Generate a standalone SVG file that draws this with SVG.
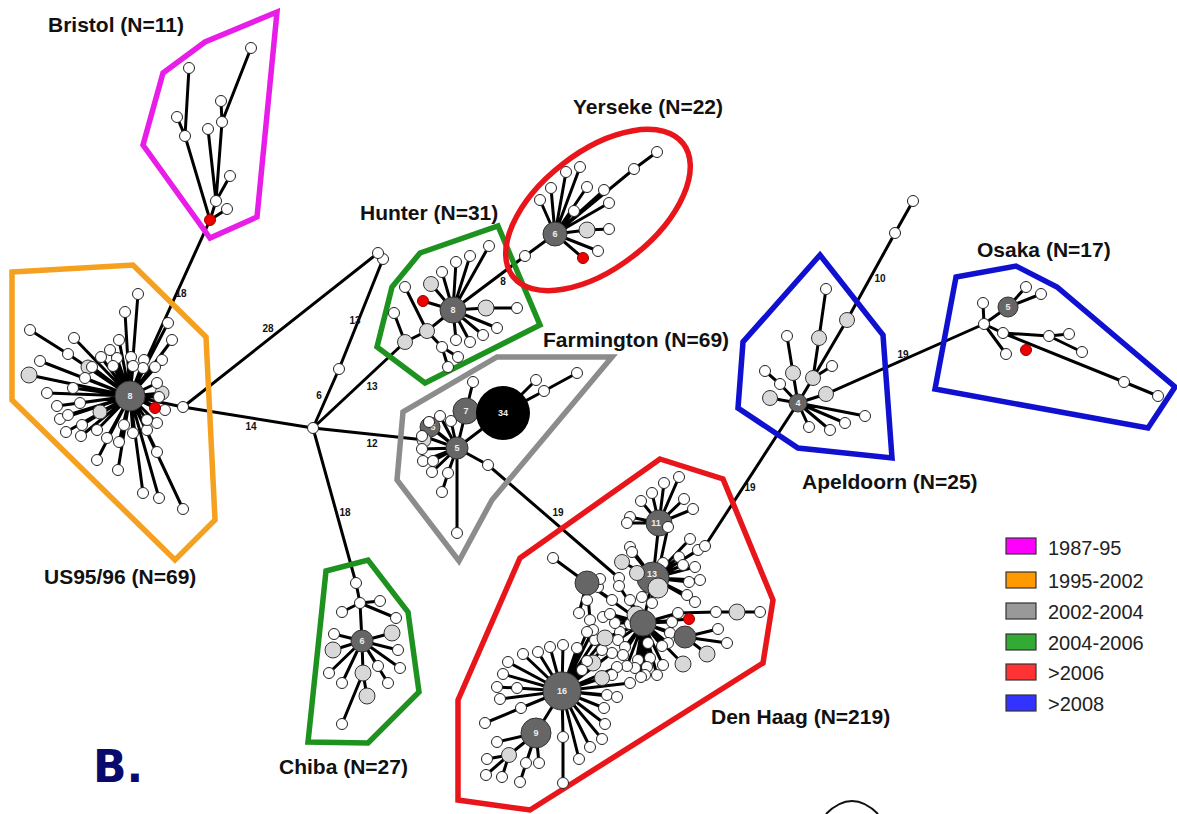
<svg xmlns="http://www.w3.org/2000/svg" width="1177" height="814" viewBox="0 0 1177 814">
<defs>
<style>
.e{fill:none;stroke:#000;stroke-width:3;stroke-linecap:round}
.h{fill:none;stroke-width:5.5;stroke-linejoin:miter}
.w{fill:#fff;stroke:#222;stroke-width:1}
.l{fill:#d8d8d8;stroke:#333;stroke-width:1}
.d{fill:#666;stroke:#333;stroke-width:1}
.r{fill:#e00;stroke:#900;stroke-width:1}
.k{fill:#000}
.nt{font-family:"Liberation Sans",Arial,sans-serif;font-weight:bold;font-size:9px;fill:#eee;text-anchor:middle}
.el{font-family:"Liberation Sans",Arial,sans-serif;font-weight:bold;font-size:10px;fill:#111;text-anchor:middle}
.gl{font-family:"Liberation Sans",Arial,sans-serif;font-weight:bold;font-size:21px;fill:#111}
.lg{font-family:"Liberation Sans",Arial,sans-serif;font-size:20px;fill:#222}
.sw{stroke:#333;stroke-width:1.2}
</style>
</defs>
<rect width="1177" height="814" fill="#fff"/>
<g id="connectors">
<path class="e" d="M210,220L130,396 M130,396L183,407L313,428 M183,407L378,253 M313,428L339,369L383,259 M313,428L405,342 M313,428L425,440 M313,428L356,583
M130,396L138,294M130,396L125,312M130,396L68,354L30,330M130,396L74,338M130,396L119,340M130,396L168,323M130,396L172,340M130,396L162,360M130,396L40,361M130,396L88,367M130,396L29,375M130,396L47,393M130,396L73,388M130,396L57,406M130,396L80,403M130,396L60,419M130,396L68,415M130,396L66,432M130,396L82,425M130,396L81,436M130,396L100,412M130,396L97,430M130,396L107,438M130,396L97,460M130,396L118,470M130,396L119,442M130,396L124,425M130,396L133,433M130,396L147,430M130,396L157,423M130,396L147,420M130,396L165,410M130,396L155,408M130,396L157,452M130,396L143,493M130,396L159,498M130,396L183,509M130,396L162,393M130,396L159,397M130,396L157,383M130,396L155,367M130,396L144,360M130,396L143,368M130,396L131,357M130,396L133,366M130,396L117,358M130,396L113,366M130,396L110,350M130,396L101,357M130,396L92,367M130,396L85,378
M210,220L216,201L230,176M210,220L227,209M216,201L222,122L221,101M222,122L251,48M216,201L208,129M210,220L185,136L177,117M185,136L189,68
M405,342L427,331L453,310M405,342L394,313M427,331L405,287M427,331L442,347L458,357M442,347L448,367
M453,310L525,256L555,234M453,310L489,246M453,310L470,256M453,310L456,262M453,310L442,272M453,310L431,284M453,310L423,301M453,310L486,308L517,308M453,310L497,328M453,310L483,335M453,310L470,342M453,310L456,340
M555,234L634,169L657,152M555,234L604,190M555,234L587,187M555,234L580,167M555,234L566,172M555,234L551,188M555,234L540,200M555,234L609,203M555,234L574,211M555,234L587,230L609,229M555,234L598,251M555,234L583,258
M457,448L466,411L473,382M457,448L503,413M503,413L536,380M503,413L544,391L577,373M457,448L430,427M457,448L440,416M457,448L451,421M457,448L429,425M457,448L423,436M457,448L422,449M457,448L423,461M457,448L433,461M457,448L432,472M457,448L448,473L442,492M457,448L457,533M457,448L488,465L619,578
M362,641L360,603L356,583M360,603L342,612M360,603L380,601M360,603L396,618M362,641L334,634M362,641L333,650M362,641L392,633M362,641L398,650M362,641L378,666M362,641L400,668M362,641L388,683M362,641L329,673M362,641L342,683M362,641L363,673L367,696M363,673L342,724
M798,403L813,378L847,320L895,233L913,201M813,378L819,338L826,289M813,378L832,366M798,403L793,373L787,336M798,403L780,384L765,371M798,403L770,398M798,403L826,394L984,324M798,403L865,416M798,403L845,423M798,403L830,430M798,403L809,427M798,403L705,546
M984,324L1008,307L1026,287M1008,307L1041,294M984,324L983,303M984,324L1003,333L1049,336L1069,334M1049,336L1082,352M1003,333L1124,382L1158,396M984,324L1006,354
M659,523L664,483M659,523L679,477M659,523L684,499M659,523L693,509M659,523L652,493M659,523L641,501M659,523L630,517M659,523L627,523M659,523L653,578M668,527L657,578
M653,578L630,547M653,578L632,552M653,578L622,562M653,578L637,573M653,578L663,563M653,578L679,557M653,578L690,539M653,578L698,550M653,578L705,546M653,578L683,565M653,578L695,567M653,578L700,580M653,578L689,582M653,578L687,595M653,578L695,602M653,578L652,603M653,578L642,597M653,578L643,623
M643,623L672,622M643,623L670,633M643,623L668,643M643,623L662,646M643,623L648,643M643,623L650,658M643,623L638,660M643,623L663,665M643,623L657,675M643,623L647,667M643,623L645,675M643,623L635,668M643,623L641,677M643,623L627,666M643,623L630,624M643,623L620,632M643,623L618,640M643,623L615,623M643,623L603,617M643,623L610,614M643,623L625,647M643,623L623,655M643,623L630,600M643,623L619,586M643,623L689,619M643,623L685,637M643,623L683,664M643,623L605,638M643,623L678,613L716,612L737,612L760,612M685,637L718,629M685,637L727,643M685,637L707,654
M587,583L553,558M587,583L598,587M587,583L600,579M587,583L587,600M587,583L579,613M587,583L590,620M587,583L612,600M587,583L643,623
M562,691L605,638M562,691L612,653M562,691L602,650M562,691L595,640M562,691L593,630M562,691L587,632M562,691L617,667M562,691L612,675M562,691L630,683M562,691L593,663M562,691L602,678M562,691L508,662M562,691L523,654M562,691L538,652M562,691L550,647M562,691L563,645M562,691L577,648M562,691L503,674M562,691L517,688L497,687M562,691L500,699M562,691L521,708L485,723M562,691L587,661M562,691L607,695M562,691L617,697M562,691L604,708M562,691L605,724M562,691L602,739M562,691L590,747M562,691L579,759M562,691L563,737L563,783M562,691L582,670M562,691L536,733
M536,733L497,742M536,733L509,755M536,733L520,782M536,733L526,763M536,733L539,763M509,755L487,759M509,755L486,775M509,755L502,777"/>
<text class="el" x="181" y="297">18</text>
<text class="el" x="268" y="332">28</text>
<text class="el" x="355" y="324">13</text>
<text class="el" x="319" y="399">6</text>
<text class="el" x="372" y="390">13</text>
<text class="el" x="251" y="430">14</text>
<text class="el" x="372" y="447">12</text>
<text class="el" x="345" y="516">18</text>
<text class="el" x="503" y="285">8</text>
<text class="el" x="558" y="516">19</text>
<text class="el" x="750" y="491">19</text>
<text class="el" x="880" y="282">10</text>
<text class="el" x="903" y="358">19</text>
</g>
<g id="hulls">
<polygon class="h" stroke="#e81ee8" points="277,12 205,42 163,73 143,145 210,238 257,217"/>
<polygon class="h" stroke="#f5a01e" points="12,272 133,265 206,337 215,520 175,560 12,400"/>
<polygon class="h" stroke="#1e921e" points="498,226 540,325 425,383 377,347 392,287 420,253"/>
<ellipse class="h" stroke="#e8151a" cx="598" cy="210" rx="108" ry="58" transform="rotate(-38 598 210)"/>
<polygon class="h" stroke="#8c8c8c" points="612,357 497,357 403,412 397,480 459,561 492,500"/>
<polygon class="h" stroke="#1e921e" points="326,571 368,560 408,612 419,692 368,743 308,742"/>
<polygon class="h" stroke="#1010d0" points="820,255 883,335 892,458 798,448 738,408 743,342"/>
<polygon class="h" stroke="#1010d0" points="956,277 1016,266 1057,287 1175,387 1148,428 935,389"/>
<polygon class="h" stroke="#e8151a" points="660,459 723,479 773,600 763,663 530,810 458,800 458,700 520,558"/>
</g>
<g id="node-bristol">
<circle class="w" cx="216" cy="201" r="5.5"/><circle class="w" cx="227" cy="209" r="5.5"/><circle class="w" cx="230" cy="176" r="5.5"/><circle class="w" cx="222" cy="122" r="5.5"/><circle class="w" cx="221" cy="101" r="5.5"/><circle class="w" cx="251" cy="48" r="5.5"/><circle class="w" cx="208" cy="129" r="5.5"/><circle class="w" cx="185" cy="136" r="5.5"/><circle class="w" cx="177" cy="117" r="5.5"/><circle class="w" cx="189" cy="68" r="5.5"/>
<circle class="r" cx="210" cy="220" r="5.5"/>
<text class="gl" x="48" y="32">Bristol (N=11)</text>
</g>
<g id="node-us">
<circle class="w" cx="183" cy="407" r="5.5"/>
<circle class="w" cx="138" cy="294" r="5.5"/><circle class="w" cx="125" cy="312" r="5.5"/><circle class="w" cx="30" cy="330" r="5.5"/><circle class="w" cx="68" cy="354" r="5.5"/><circle class="w" cx="74" cy="338" r="5.5"/><circle class="w" cx="119" cy="340" r="5.5"/><circle class="w" cx="168" cy="323" r="5.5"/><circle class="w" cx="172" cy="340" r="5.5"/><circle class="w" cx="162" cy="360" r="5.5"/><circle class="w" cx="40" cy="361" r="5.5"/><circle class="l" cx="88" cy="367" r="7"/><circle class="l" cx="29" cy="375" r="8"/><circle class="w" cx="47" cy="393" r="5.5"/><circle class="w" cx="73" cy="388" r="5.5"/><circle class="w" cx="57" cy="406" r="5.5"/><circle class="w" cx="80" cy="403" r="5.5"/><circle class="w" cx="60" cy="419" r="5.5"/><circle class="w" cx="68" cy="415" r="5.5"/><circle class="w" cx="66" cy="432" r="5.5"/><circle class="w" cx="82" cy="425" r="5.5"/><circle class="w" cx="81" cy="436" r="5.5"/><circle class="l" cx="100" cy="412" r="7"/><circle class="w" cx="97" cy="430" r="5.5"/><circle class="w" cx="107" cy="438" r="5.5"/><circle class="w" cx="97" cy="460" r="5.5"/><circle class="w" cx="118" cy="470" r="5.5"/><circle class="w" cx="119" cy="442" r="5.5"/><circle class="w" cx="124" cy="425" r="5.5"/><circle class="w" cx="133" cy="433" r="5.5"/><circle class="w" cx="147" cy="430" r="5.5"/><circle class="w" cx="157" cy="423" r="5.5"/><circle class="w" cx="147" cy="420" r="5.5"/><circle class="w" cx="165" cy="410" r="5.5"/><circle class="w" cx="157" cy="452" r="5.5"/><circle class="w" cx="143" cy="493" r="5.5"/><circle class="w" cx="159" cy="498" r="5.5"/><circle class="w" cx="183" cy="509" r="5.5"/><circle class="l" cx="162" cy="393" r="7"/><circle class="w" cx="159" cy="397" r="5.5"/><circle class="w" cx="157" cy="383" r="5.5"/><circle class="w" cx="155" cy="367" r="5.5"/><circle class="w" cx="144" cy="360" r="5.5"/><circle class="w" cx="143" cy="368" r="5.5"/><circle class="w" cx="131" cy="357" r="5.5"/><circle class="w" cx="133" cy="366" r="5.5"/><circle class="w" cx="117" cy="358" r="5.5"/><circle class="w" cx="113" cy="366" r="5.5"/><circle class="w" cx="110" cy="350" r="5.5"/><circle class="w" cx="101" cy="357" r="5.5"/><circle class="w" cx="92" cy="367" r="5.5"/><circle class="w" cx="85" cy="378" r="5.5"/>
<circle class="r" cx="155" cy="408" r="5.5"/>
<circle class="d" cx="130" cy="396" r="15"/><text class="nt" x="130" y="399">8</text>
<text class="gl" x="44" y="584">US95/96 (N=69)</text>
</g>
<g id="node-center">
<circle class="w" cx="313" cy="428" r="5.5"/><circle class="w" cx="339" cy="369" r="5.5"/><circle class="w" cx="383" cy="259" r="5.5"/><circle class="w" cx="378" cy="253" r="5.5"/>
</g>
<g id="node-hunter">
<circle class="l" cx="405" cy="342" r="7.5"/><circle class="l" cx="427" cy="331" r="7.5"/><circle class="w" cx="394" cy="313" r="5.5"/><circle class="w" cx="405" cy="287" r="5.5"/><circle class="w" cx="442" cy="347" r="5.5"/><circle class="w" cx="458" cy="357" r="5.5"/><circle class="w" cx="448" cy="367" r="5.5"/>
<circle class="w" cx="525" cy="256" r="5.5"/><circle class="w" cx="489" cy="246" r="5.5"/><circle class="w" cx="470" cy="256" r="5.5"/><circle class="w" cx="456" cy="262" r="5.5"/><circle class="w" cx="442" cy="272" r="5.5"/><circle class="l" cx="431" cy="284" r="7.5"/><circle class="r" cx="423" cy="301" r="5.5"/><circle class="l" cx="486" cy="308" r="8"/><circle class="w" cx="517" cy="308" r="5.5"/><circle class="w" cx="497" cy="328" r="5.5"/><circle class="w" cx="483" cy="335" r="5.5"/><circle class="w" cx="470" cy="342" r="5.5"/><circle class="w" cx="456" cy="340" r="5.5"/>
<circle class="d" cx="453" cy="310" r="13"/><text class="nt" x="453" y="313">8</text>
<text class="gl" x="360" y="220">Hunter (N=31)</text>
</g>
<g id="node-yerseke">
<circle class="w" cx="634" cy="169" r="5.5"/><circle class="w" cx="657" cy="152" r="5.5"/><circle class="w" cx="604" cy="190" r="5.5"/><circle class="w" cx="587" cy="187" r="5.5"/><circle class="w" cx="580" cy="167" r="5.5"/><circle class="w" cx="566" cy="172" r="5.5"/><circle class="w" cx="551" cy="188" r="5.5"/><circle class="w" cx="540" cy="200" r="5.5"/><circle class="w" cx="609" cy="203" r="5.5"/><circle class="w" cx="574" cy="211" r="5.5"/><circle class="l" cx="587" cy="230" r="8"/><circle class="w" cx="609" cy="229" r="5.5"/><circle class="w" cx="598" cy="251" r="5.5"/><circle class="r" cx="583" cy="258" r="5.5"/>
<circle class="d" cx="555" cy="234" r="12"/><text class="nt" x="555" y="237">6</text>
<text class="gl" x="573" y="114">Yerseke (N=22)</text>
</g>
<g id="node-farmington">
<circle class="w" cx="473" cy="382" r="5.5"/><circle class="w" cx="536" cy="380" r="5.5"/><circle class="w" cx="544" cy="391" r="5.5"/><circle class="w" cx="577" cy="373" r="5.5"/>
<circle class="d" cx="430" cy="427" r="10"/><circle class="l" cx="424" cy="440" r="7"/><text class="nt" x="433" y="430">5</text>
<circle class="w" cx="440" cy="416" r="5.5"/><circle class="w" cx="451" cy="421" r="5.5"/><circle class="w" cx="429" cy="422" r="5.5"/><circle class="w" cx="422" cy="436" r="5.5"/><circle class="w" cx="422" cy="449" r="5.5"/><circle class="w" cx="423" cy="461" r="5.5"/><circle class="w" cx="433" cy="461" r="5.5"/><circle class="w" cx="432" cy="472" r="5.5"/><circle class="w" cx="448" cy="473" r="5.5"/><circle class="w" cx="442" cy="492" r="5.5"/><circle class="w" cx="457" cy="533" r="5.5"/><circle class="w" cx="488" cy="465" r="5.5"/>
<circle class="d" cx="466" cy="411" r="13"/><text class="nt" x="466" y="414">7</text>
<circle class="k" cx="503" cy="413" r="27"/><text class="nt" x="503" y="416">34</text>
<circle class="d" cx="457" cy="448" r="11"/><text class="nt" x="457" y="451">5</text>
<text class="gl" x="543" y="347">Farmington (N=69)</text>
</g>
<g id="node-chiba">
<circle class="w" cx="356" cy="583" r="5.5"/><circle class="w" cx="360" cy="603" r="5.5"/><circle class="w" cx="342" cy="612" r="5.5"/><circle class="w" cx="380" cy="601" r="5.5"/><circle class="w" cx="396" cy="618" r="5.5"/><circle class="w" cx="334" cy="634" r="5.5"/><circle class="l" cx="333" cy="650" r="8"/><circle class="l" cx="392" cy="633" r="8"/><circle class="w" cx="398" cy="650" r="5.5"/><circle class="w" cx="378" cy="666" r="5.5"/><circle class="w" cx="400" cy="668" r="5.5"/><circle class="w" cx="388" cy="683" r="5.5"/><circle class="w" cx="329" cy="673" r="5.5"/><circle class="w" cx="342" cy="683" r="5.5"/><circle class="l" cx="363" cy="673" r="8"/><circle class="l" cx="367" cy="696" r="8"/><circle class="w" cx="342" cy="724" r="5.5"/>
<circle class="d" cx="362" cy="641" r="11"/><text class="nt" x="362" y="644">6</text>
<text class="gl" x="279" y="774">Chiba (N=27)</text>
</g>
<g id="node-apeldoorn">
<circle class="w" cx="913" cy="201" r="5.5"/><circle class="w" cx="895" cy="233" r="5.5"/><circle class="l" cx="847" cy="320" r="7.5"/><circle class="l" cx="819" cy="338" r="7.5"/><circle class="l" cx="813" cy="378" r="7.5"/><circle class="w" cx="826" cy="289" r="5.5"/><circle class="l" cx="793" cy="373" r="7.5"/><circle class="w" cx="787" cy="336" r="5.5"/><circle class="w" cx="765" cy="371" r="5.5"/><circle class="w" cx="780" cy="384" r="5.5"/><circle class="l" cx="770" cy="398" r="7.5"/><circle class="w" cx="832" cy="366" r="5.5"/><circle class="l" cx="826" cy="394" r="7.5"/><circle class="w" cx="865" cy="416" r="5.5"/><circle class="w" cx="845" cy="423" r="5.5"/><circle class="w" cx="830" cy="430" r="5.5"/><circle class="w" cx="809" cy="427" r="5.5"/>
<circle class="d" cx="798" cy="403" r="9"/><text class="nt" x="798" y="406">4</text>
<text class="gl" x="802" y="489">Apeldoorn (N=25)</text>
</g>
<g id="node-osaka">
<circle class="w" cx="984" cy="324" r="5.5"/><circle class="w" cx="983" cy="303" r="5.5"/><circle class="w" cx="1026" cy="287" r="5.5"/><circle class="w" cx="1041" cy="294" r="5.5"/><circle class="w" cx="1003" cy="333" r="5.5"/><circle class="w" cx="1006" cy="354" r="5.5"/><circle class="w" cx="1049" cy="336" r="5.5"/><circle class="w" cx="1069" cy="334" r="5.5"/><circle class="w" cx="1082" cy="352" r="5.5"/><circle class="w" cx="1124" cy="382" r="5.5"/><circle class="w" cx="1158" cy="396" r="5.5"/><circle class="r" cx="1026" cy="350" r="5.5"/>
<circle class="d" cx="1008" cy="307" r="10"/><text class="nt" x="1008" y="310">5</text>
<text class="gl" x="977" y="257">Osaka (N=17)</text>
</g>
<g id="node-denhaag">
<circle class="w" cx="664" cy="483" r="5.5"/><circle class="w" cx="679" cy="477" r="5.5"/><circle class="w" cx="684" cy="499" r="5.5"/><circle class="w" cx="693" cy="509" r="5.5"/><circle class="w" cx="652" cy="493" r="5.5"/><circle class="w" cx="641" cy="501" r="5.5"/><circle class="w" cx="630" cy="517" r="5.5"/><circle class="w" cx="627" cy="523" r="5.5"/>
<circle class="d" cx="659" cy="523" r="13"/><text class="nt" x="656" y="526">11</text><circle class="w" cx="668" cy="527" r="5.5"/>
<circle class="w" cx="630" cy="547" r="5.5"/><circle class="w" cx="632" cy="552" r="5.5"/><circle class="l" cx="622" cy="562" r="7.5"/><circle class="w" cx="663" cy="563" r="5.5"/><circle class="w" cx="679" cy="557" r="5.5"/><circle class="w" cx="690" cy="539" r="5.5"/><circle class="w" cx="698" cy="550" r="5.5"/><circle class="w" cx="705" cy="546" r="5.5"/><circle class="w" cx="683" cy="565" r="5.5"/><circle class="w" cx="695" cy="567" r="5.5"/><circle class="w" cx="700" cy="580" r="5.5"/><circle class="w" cx="689" cy="582" r="5.5"/><circle class="w" cx="687" cy="595" r="5.5"/><circle class="w" cx="695" cy="602" r="5.5"/><circle class="w" cx="652" cy="603" r="5.5"/><circle class="w" cx="642" cy="597" r="5.5"/>
<circle class="d" cx="653" cy="578" r="16"/><circle class="l" cx="637" cy="573" r="7.5"/><circle class="l" cx="658" cy="588" r="10"/><text class="nt" x="652" y="577">13</text>
<circle class="w" cx="553" cy="558" r="5.5"/><circle class="w" cx="598" cy="587" r="5.5"/><circle class="w" cx="600" cy="579" r="5.5"/><circle class="w" cx="587" cy="600" r="5.5"/><circle class="w" cx="579" cy="613" r="5.5"/><circle class="w" cx="590" cy="620" r="5.5"/><circle class="w" cx="612" cy="600" r="5.5"/><circle class="w" cx="619" cy="578" r="5.5"/><circle class="w" cx="619" cy="586" r="5.5"/><circle class="w" cx="630" cy="600" r="5.5"/>
<circle class="d" cx="587" cy="583" r="12"/>
<circle class="w" cx="672" cy="622" r="5.5"/><circle class="w" cx="670" cy="633" r="5.5"/><circle class="w" cx="668" cy="643" r="5.5"/><circle class="w" cx="662" cy="646" r="5.5"/><circle class="w" cx="648" cy="643" r="5.5"/><circle class="w" cx="650" cy="658" r="5.5"/><circle class="w" cx="638" cy="660" r="5.5"/><circle class="w" cx="663" cy="665" r="5.5"/><circle class="w" cx="657" cy="675" r="5.5"/><circle class="w" cx="647" cy="667" r="5.5"/><circle class="w" cx="645" cy="675" r="5.5"/><circle class="w" cx="635" cy="668" r="5.5"/><circle class="w" cx="641" cy="677" r="5.5"/><circle class="w" cx="627" cy="666" r="5.5"/><circle class="w" cx="630" cy="624" r="5.5"/><circle class="w" cx="620" cy="632" r="5.5"/><circle class="w" cx="618" cy="640" r="5.5"/><circle class="w" cx="615" cy="623" r="5.5"/><circle class="w" cx="603" cy="617" r="5.5"/><circle class="w" cx="610" cy="614" r="5.5"/><circle class="w" cx="625" cy="647" r="5.5"/><circle class="w" cx="623" cy="655" r="5.5"/>
<circle class="w" cx="678" cy="613" r="5.5"/><circle class="w" cx="716" cy="612" r="5.5"/><circle class="l" cx="737" cy="612" r="8"/><circle class="w" cx="760" cy="612" r="5.5"/>
<circle class="w" cx="718" cy="629" r="5.5"/><circle class="w" cx="727" cy="643" r="5.5"/><circle class="l" cx="707" cy="654" r="8"/><circle class="l" cx="683" cy="664" r="8"/>
<circle class="d" cx="685" cy="637" r="11"/><circle class="r" cx="689" cy="619" r="5.5"/>
<circle class="l" cx="636" cy="615" r="9"/><circle class="d" cx="643" cy="623" r="13"/>
<circle class="w" cx="612" cy="653" r="5.5"/><circle class="w" cx="602" cy="650" r="5.5"/><circle class="w" cx="595" cy="640" r="5.5"/><circle class="w" cx="593" cy="630" r="5.5"/><circle class="w" cx="587" cy="632" r="5.5"/><circle class="w" cx="617" cy="667" r="5.5"/><circle class="w" cx="612" cy="675" r="5.5"/><circle class="w" cx="630" cy="683" r="5.5"/>
<circle class="l" cx="605" cy="638" r="8"/><circle class="l" cx="593" cy="663" r="8"/><circle class="l" cx="602" cy="678" r="7.5"/>
<circle class="w" cx="508" cy="662" r="5.5"/><circle class="w" cx="523" cy="654" r="5.5"/><circle class="w" cx="538" cy="652" r="5.5"/><circle class="w" cx="550" cy="647" r="5.5"/><circle class="w" cx="563" cy="645" r="5.5"/><circle class="w" cx="577" cy="648" r="5.5"/><circle class="w" cx="503" cy="674" r="5.5"/><circle class="w" cx="517" cy="688" r="5.5"/><circle class="w" cx="497" cy="687" r="5.5"/><circle class="w" cx="500" cy="699" r="5.5"/><circle class="w" cx="521" cy="708" r="5.5"/><circle class="w" cx="485" cy="723" r="5.5"/><circle class="w" cx="587" cy="661" r="5.5"/><circle class="w" cx="607" cy="695" r="5.5"/><circle class="w" cx="617" cy="697" r="5.5"/><circle class="w" cx="604" cy="708" r="5.5"/><circle class="w" cx="605" cy="724" r="5.5"/><circle class="w" cx="602" cy="739" r="5.5"/><circle class="w" cx="590" cy="747" r="5.5"/><circle class="w" cx="579" cy="759" r="5.5"/><circle class="w" cx="563" cy="737" r="5.5"/><circle class="w" cx="563" cy="783" r="5.5"/><circle class="w" cx="582" cy="670" r="5.5"/>
<circle class="d" cx="562" cy="691" r="19"/><text class="nt" x="562" y="694">16</text>
<circle class="w" cx="497" cy="742" r="5.5"/><circle class="w" cx="487" cy="759" r="5.5"/><circle class="w" cx="486" cy="775" r="5.5"/><circle class="w" cx="502" cy="777" r="5.5"/><circle class="l" cx="509" cy="755" r="7.5"/><circle class="w" cx="520" cy="782" r="5.5"/><circle class="w" cx="526" cy="763" r="5.5"/><circle class="w" cx="539" cy="763" r="5.5"/>
<circle class="d" cx="536" cy="733" r="15"/><text class="nt" x="536" y="736">9</text>
<text class="gl" x="711" y="724">Den Haag (N=219)</text>
</g>
<g id="legend">
<rect class="sw" x="1006" y="538" width="30" height="16" fill="#ff00ff"/><text class="lg" x="1048" y="555">1987-95</text>
<rect class="sw" x="1006" y="572" width="30" height="16" fill="#ff9900"/><text class="lg" x="1048" y="588">1995-2002</text>
<rect class="sw" x="1006" y="603" width="30" height="16" fill="#999999"/><text class="lg" x="1048" y="619">2002-2004</text>
<rect class="sw" x="1006" y="634" width="30" height="16" fill="#33aa33"/><text class="lg" x="1048" y="650">2004-2006</text>
<rect class="sw" x="1006" y="664" width="30" height="16" fill="#ff3333"/><text class="lg" x="1048" y="680">&gt;2006</text>
<rect class="sw" x="1006" y="695" width="30" height="16" fill="#3333ff"/><text class="lg" x="1048" y="711">&gt;2008</text>
</g>
<text x="93" y="782" font-family="'DejaVu Sans',Verdana,sans-serif" font-weight="bold" font-size="44" fill="#0a0a6e">B.</text>
<path d="M826,814 Q852,788 878,814" fill="none" stroke="#111" stroke-width="2"/>
</svg>
